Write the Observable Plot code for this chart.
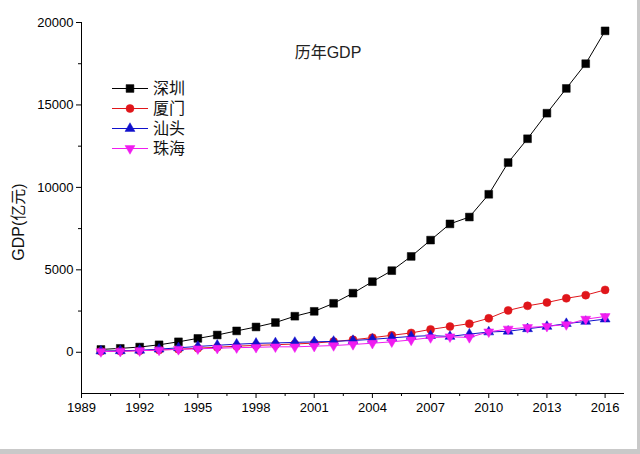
<!DOCTYPE html>
<html>
<head>
<meta charset="utf-8">
<script src="https://cdn.jsdelivr.net/npm/d3@7"></script>
<script src="https://cdn.jsdelivr.net/npm/@observablehq/plot@0.6"></script>
<style>
  html, body { margin: 0; padding: 0; background: #c9c9c9; }
  #wrap { position: absolute; left: 0; top: 0; width: 637px; height: 449px; background: #fff; }
</style>
</head>
<body>
<div id="wrap"></div>
<script>
const years = [1990,1991,1992,1993,1994,1995,1996,1997,1998,1999,2000,2001,2002,2003,2004,2005,2006,2007,2008,2009,2010,2011,2012,2013,2014,2015,2016];
const shenzhen = [171.7,236.7,317.3,453.1,634.7,842.5,1048.4,1297.4,1534.7,1804.0,2187.5,2482.5,2969.5,3585.7,4282.1,4950.9,5813.6,6801.6,7786.8,8201.3,9581.5,11505.5,12950.1,14500.2,16001.8,17502.9,19492.6];
const xiamen = [57.1,72.0,97.7,141.2,183.6,250.7,305.0,370.1,418.2,458.3,501.9,558.3,648.4,759.7,887.7,1029.5,1173.8,1387.9,1560.0,1737.2,2060.1,2539.3,2817.1,3018.2,3273.6,3466.0,3784.3];
const shantou = [73,90,123,189,270,355,425,490,540,567,598,632,660,713,785,874,961,1009,960,1100,1230,1275,1425,1566,1740,1868,2010];
const zhuhai = [41,61,93,138,175,212,245,280,301,332,330,370,408,475,548,635,748,891,940,900,1240,1410,1504,1575,1680,2010,2170];

const seriesNames = ["深圳","厦门","汕头","珠海"];
const seriesValues = [shenzhen, xiamen, shantou, zhuhai];
const seriesColors = ["#000000","#e0161b","#1010cc","#f01cf0"];
const title = "历年GDP";
const yLabel = "GDP(亿元)";
const xMajor = [1989,1992,1995,1998,2001,2004,2007,2010,2013,2016];
const xMinor = [1990.5,1993.5,1996.5,1999.5,2002.5,2005.5,2008.5,2011.5,2014.5];
const yMajor = [0,5000,10000,15000,20000];
const yMinor = [2500,7500,12500,17500];

const triangleDown = {
  draw(context, size) {
    const y = -Math.sqrt(size / (Math.sqrt(3) * 3));
    context.moveTo(0, -y * 2);
    context.lineTo(-Math.sqrt(3) * y, y);
    context.lineTo(Math.sqrt(3) * y, y);
    context.closePath();
  }
};
const symbols = ["square","circle","triangle", triangleDown];
const radii = [4.4, 4, 3.7, 3.7];

const rows = [];
seriesNames.forEach((name, s) => {
  years.forEach((yr, i) => rows.push({series: name, s, year: yr, value: seriesValues[s][i]}));
});

const seriesMarks = [];
seriesNames.forEach((name, s) => {
  const data = rows.filter(d => d.s === s);
  seriesMarks.push(Plot.line(data, {x: "year", y: "value", stroke: seriesColors[s], strokeWidth: 1}));
  seriesMarks.push(Plot.dot(data, {x: "year", y: "value", symbol: symbols[s], r: radii[s], fill: seriesColors[s], stroke: seriesColors[s], strokeWidth: 0.5}));
});

const fontFam = "'Liberation Sans', Arial, 'Noto Sans CJK SC', sans-serif";

const chart = Plot.plot({
  width: 637,
  height: 449,
  marginLeft: 81,
  marginRight: 13,
  marginTop: 22,
  marginBottom: 56,
  x: {domain: [1989, 2017]},
  y: {domain: [-2500, 20000]},
  style: {fontFamily: fontFam, fontSize: "13px", color: "#000", background: "transparent", overflow: "visible"},
  marks: [
    Plot.axisX({ticks: xMajor, tickSize: 5, tickPadding: 4, tickFormat: d => String(d), label: null, fontSize: 13}),
    Plot.axisX({ticks: xMinor, tickSize: 3, tickFormat: () => "", label: null}),
    Plot.axisY({ticks: yMajor, tickSize: 5, tickPadding: 3, tickFormat: d => String(d), label: null, fontSize: 13}),
    Plot.axisY({ticks: yMinor, tickSize: 3, tickFormat: () => "", label: null}),
    Plot.ruleX([1989], {stroke: "#000", strokeWidth: 1}),
    Plot.ruleY([-2500], {stroke: "#000", strokeWidth: 1}),
    ...seriesMarks,
    Plot.text([title], {text: d => d, frameAnchor: "top", dx: -25, dy: 30, lineAnchor: "middle", fontSize: 16, fill: "#222"}),
    Plot.text([yLabel], {text: d => d, frameAnchor: "left", rotate: -90, dx: -63, dy: 14, lineAnchor: "middle", textAnchor: "middle", fontSize: 16, fill: "#111"})
  ]
});

document.getElementById("wrap").appendChild(chart);

// legend inside the plot area
const svg = d3.select(chart);
const lg = svg.append("g").attr("font-family", fontFam).attr("font-size", 16).attr("text-anchor", "start");
const rowY = [88, 108, 128, 148];
seriesNames.forEach((name, s) => {
  const g = lg.append("g").attr("transform", `translate(0,${rowY[s]})`);
  g.append("line").attr("x1", 112).attr("x2", 148).attr("y1", 0.5).attr("y2", 0.5)
    .attr("stroke", seriesColors[s]).attr("stroke-width", 1);
  const sym = typeof symbols[s] === "string"
    ? {square: d3.symbolSquare, circle: d3.symbolCircle, triangle: d3.symbolTriangle}[symbols[s]]
    : symbols[s];
  g.append("path").attr("transform", "translate(130,0.5)")
    .attr("d", d3.symbol(sym, Math.PI * radii[s] * radii[s])())
    .attr("fill", seriesColors[s]).attr("stroke", seriesColors[s]).attr("stroke-width", 0.5);
  g.append("text").attr("x", 153).attr("y", 0).attr("dy", "0.35em").attr("text-anchor", "start").attr("fill", "#111").text(name);
});
</script>
</body>
</html>
